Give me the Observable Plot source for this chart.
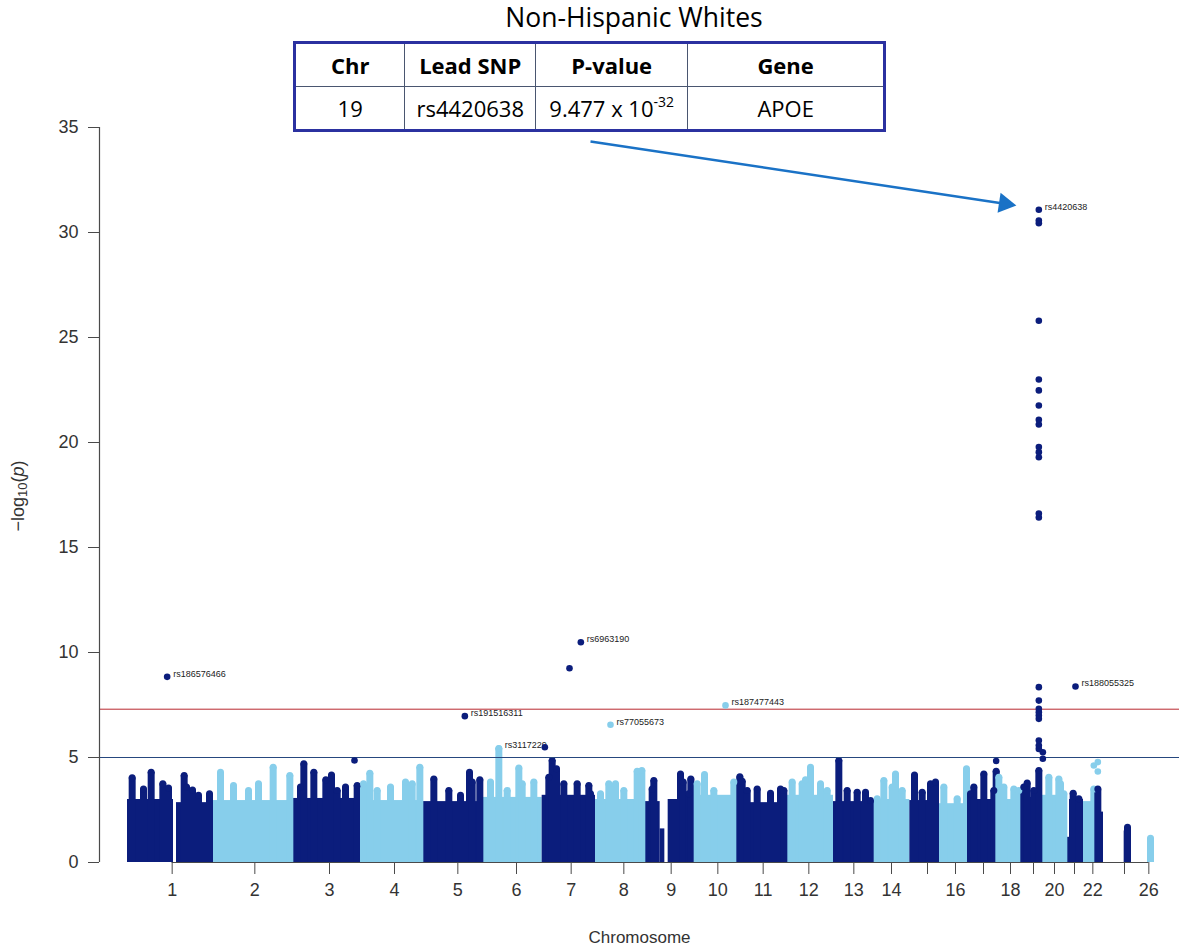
<!DOCTYPE html>
<html>
<head>
<meta charset="utf-8">
<script src="https://cdn.jsdelivr.net/npm/d3@7"></script>
<script src="https://cdn.jsdelivr.net/npm/@observablehq/plot@0.6"></script>
<style>
  body { margin: 0; background: #fff; }
  #wrap { position: relative; width: 1179px; height: 952px; overflow: hidden; background: #fff; }
  #chart { position: absolute; left: 0; top: 0; }
  #title { position: absolute; left: 434px; width: 400px; top: -1px; text-align: center;
           font-family: "Open Sans", sans-serif; font-size: 26.5px; color: #000; white-space: nowrap; }
  #tbl { position: absolute; left: 293px; top: 41px; width: 593px; height: 91px; border-collapse: collapse;
         border: 3px solid #2b31a0; font-family: "Open Sans", sans-serif; font-size: 22px; color: #000; background: #fff; }
  #tbl th, #tbl td { border: 1.5px solid #4a5670; text-align: center; padding: 0; line-height: 1; }
  #tbl th { font-weight: bold; }
  #tbl sup { font-size: 14px; position: relative; top: -2px; vertical-align: super; line-height: 0; }
  #ylab { position: absolute; left: 18px; top: 496px; transform: translate(-50%, -50%) rotate(-90deg);
          font-family: "Liberation Sans", Arial, sans-serif; font-size: 18px; color: #333; white-space: nowrap; }
  #ylab sub { font-size: 13px; vertical-align: -3px; line-height: 0; }
</style>
</head>
<body>
<div id="wrap">
  <div id="chart"></div>
  <div id="title"></div>
  <table id="tbl"></table>
  <div id="ylab">−log<sub>10</sub>(<i>p</i>)</div>
</div>
<script>
// ---------------- DATA ----------------
const chartTitle = "Non-Hispanic Whites";
const tableHeader = ["Chr", "Lead SNP", "P-value", "Gene"];
const tableRow = ["19", "rs4420638", "9.477 x 10<sup>-32</sup>", "APOE"];
const tableColWidths = [111, 131, 153, 198];

// chromosome order, shade, axis tick position (cumulative genomic position, ~Mb) and tick label
const chromosomes = ["1","2","3","4","5","6","7","8","9","10","11","12","13","14","15","16","17","18","19","20","21","22","23","26"];
const chrShade = ["dark","light","dark","light","dark","light","dark","light","dark","light","dark","light","dark","light","dark","light","dark","light","dark","light","dark","light","dark","light"];
const tickPositions = [134,382,606,801,991,1167,1331,1489,1631,1771,1907,2044,2179,2292,2400,2484,2568,2649,2718,2781,2841,2896,2991,3064];
const tickLabels = ["1","2","3","4","5","6","7","8","9","10","11","12","13","14","","16","","18","","20","","22","","26"];
const xDomain = [-84, 3156];
const yTicks = [0, 5, 10, 15, 20, 25, 30, 35];

// dense bulk of SNPs per chromosome: [chr, start, end, typical top -log10(p)]
const bodySegments = [
  ["1",0,138,3.0],["1",147,249,2.85],
  ["2",249,497,2.95],
  ["3",497,694,3.05],
  ["4",694,887,2.95],
  ["5",887,1068,2.9],
  ["6",1068,1244,3.1],
  ["7",1244,1404,3.2],
  ["8",1404,1548,3.0],
  ["9",1549,1598,2.9],["9",1598,1612,1.6],["9",1622,1694,3.0],
  ["10",1694,1829,3.2],
  ["11",1829,1977,2.85],
  ["12",1977,2118,3.2],
  ["13",2118,2234,2.9],
  ["14",2234,2347,3.0],
  ["15",2347,2427,2.95],
  ["16",2427,2519,2.8],
  ["17",2519,2610,3.0],
  ["18",2610,2679,3.0],
  ["19",2679,2739,3.1],
  ["20",2739,2817,3.2],
  ["21",2818,2826,1.2],["21",2826,2868,3.0],
  ["22",2868,2905,2.9],
  ["23",2906,2928,2.4],["23",2990,3010,1.5]
];

// stacked SNP columns rising out of the bulk: [chr, position, top -log10(p)]
const peaks = [
  ["1",14,4.03],["1",48,3.5],["1",71,4.3],["1",106,3.75],["1",123,3.55],["1",170,4.14],["1",177,3.6],["1",195,3.45],["1",213,3.2],["1",246,3.27],
  ["2",279,4.3],["2",318,3.67],["2",363,3.43],["2",393,3.75],["2",437,4.54],["2",487,4.14],
  ["3",519,3.6],["3",529,4.7],["3",559,4.3],["3",595,3.94],["3",612,4.17],["3",629,3.43],["3",654,3.59],["3",689,3.67],
  ["4",708,3.75],["4",727,4.25],["4",749,3.43],["4",789,3.6],["4",834,3.83],["4",854,3.75],["4",877,4.54],
  ["5",919,3.98],["5",964,3.43],["5",999,3.2],["5",1026,4.3],["5",1034,3.83],["5",1057,3.94],
  ["6",1089,3.83],["6",1114,5.43],["6",1139,3.43],["6",1174,4.5],["6",1184,3.75],["6",1219,3.83],
  ["7",1264,4.06],["7",1274,4.86],["7",1287,4.46],["7",1309,3.75],["7",1349,3.75],["7",1384,3.67],["7",1389,3.27],
  ["8",1419,3.27],["8",1444,3.75],["8",1464,3.75],["8",1489,3.43],["8",1529,4.35],["8",1543,4.38],
  ["9",1574,3.5],["9",1579,3.9],["9",1659,4.22],["9",1667,3.83],["9",1684,3.27],["9",1690,3.98],
  ["10",1709,3.75],["10",1731,4.19],["10",1759,3.43],["10",1819,3.83],
  ["11",1837,4.08],["11",1844,3.87],["11",1859,3.43],["11",1889,3.5],["11",1929,3.3],["11",1959,3.5],["11",1969,3.43],
  ["12",1994,3.83],["12",2024,3.75],["12",2034,3.94],["12",2049,4.54],["12",2079,3.75],["12",2099,3.43],
  ["13",2134,4.86],["13",2159,3.43],["13",2189,3.35],["13",2214,3.35],["13",2229,2.95],
  ["14",2249,3.03],["14",2269,3.9],["14",2294,3.59],["14",2304,4.22],["14",2324,3.43],
  ["15",2361,4.17],["15",2384,3.35],["15",2409,3.75],["15",2424,3.83],
  ["16",2449,3.59],["16",2489,3.03],["16",2517,4.46],
  ["17",2529,3.27],["17",2539,3.59],["17",2569,4.22],["17",2599,3.43],["17",2606,4.35],
  ["18",2614,4.06],["18",2629,3.59],["18",2659,3.5],["18",2674,3.43],
  ["19",2689,3.59],["19",2699,3.78],["19",2719,3.43],["19",2734,4.38],
  ["20",2764,4.06],["20",2794,3.98],["20",2799,3.75],["20",2809,3.27],
  ["21",2837,3.3],["21",2854,3.03],
  ["22",2899,3.5],
  ["23",2911,3.5],["23",3000,1.68],
  ["26",3069,1.16]
];

// individual SNPs standing clear of the bulk: [chr, position, -log10(p), label]
const hits = [
  ["1",119,8.84,"rs186576466"],
  ["3",681,4.86,""],
  ["5",1012,6.97,"rs191516311"],
  ["6",1114,5.43,"rs3117229"],
  ["7",1252,5.49,""],
  ["7",1326,9.25,""],
  ["7",1360,10.49,"rs6963190"],
  ["8",1449,6.56,"rs77055673"],
  ["10",1794,7.48,"rs187477443"],
  ["17",2606,4.83,""],
  ["19",2746,4.94,""],["19",2746,5.25,""],["19",2734,5.41,""],["19",2734,5.57,""],["19",2734,5.81,""],
  ["19",2734,6.84,""],["19",2734,7.0,""],["19",2734,7.16,""],["19",2734,7.32,""],["19",2734,7.71,""],["19",2734,8.35,""],
  ["19",2734,16.43,""],["19",2734,16.62,""],["19",2734,19.3,""],["19",2734,19.54,""],["19",2734,19.78,""],
  ["19",2734,20.86,""],["19",2734,21.08,""],["19",2734,21.76,""],["19",2734,22.48,""],["19",2734,23.0,""],
  ["19",2734,25.8,""],["19",2734,30.44,""],["19",2734,30.57,""],["19",2734,31.08,"rs4420638"],
  ["21",2844,8.38,"rs188055325"],
  ["22",2899,4.62,""],["22",2911,4.78,""],["22",2911,4.33,""]
];

const suggestiveLine = 5;        // -log10(1e-5)
const genomeWideLine = 7.3;      // -log10(5e-8)

// callout arrow from the table to the lead SNP: [x1, y1, x2, y2] and arrowhead [x, y, angle]
const callout = [1389, 34.33, 2632, 31.37];
const calloutHead = [2632, 31.37, 98.6];

// ---------------- STYLE ----------------
const DARK = "#0b1d7c";
const LIGHT = "#87ceeb";
const AXIS = "#4a4a4a";
const TEXT = "#333333";

// ---------------- BUILD ----------------
document.getElementById("title").textContent = chartTitle;
const tbl = document.getElementById("tbl");
const colgroup = document.createElement("colgroup");
tableColWidths.forEach(w => { const c = document.createElement("col"); c.style.width = w + "px"; colgroup.appendChild(c); });
tbl.appendChild(colgroup);
const trh = document.createElement("tr");
tableHeader.forEach(h => { const th = document.createElement("th"); th.textContent = h; trh.appendChild(th); });
tbl.appendChild(trh);
const trb = document.createElement("tr");
tableRow.forEach(v => { const td = document.createElement("td"); td.innerHTML = v; trb.appendChild(td); });
tbl.appendChild(trb);

const shadeOf = new Map(chromosomes.map((c, i) => [c, chrShade[i]]));
const colorOf = c => shadeOf.get(c) === "dark" ? DARK : LIGHT;
const labelAt = new Map(tickPositions.map((p, i) => [p, tickLabels[i]]));

const bodyData = bodySegments.map(([chr, x1, x2, top]) => ({chr, x1, x2, top, color: colorOf(chr)}));
const peakData = peaks.map(([chr, pos, value]) => ({chr, pos, value, color: colorOf(chr)}));
const hitData = hits.map(([chr, pos, value, label]) => ({chr, pos, value, label, color: colorOf(chr)}));
const labelData = hitData.filter(d => d.label);

const chart = Plot.plot({
  width: 1179,
  height: 952,
  marginLeft: 99,
  marginRight: 0,
  marginTop: 127,
  marginBottom: 90,
  x: {domain: xDomain, axis: null},
  y: {domain: [0, 35], axis: null},
  color: {type: "identity"},
  style: {fontFamily: "'Liberation Sans', Arial, sans-serif", fontSize: "18px", background: "#fff", color: TEXT},
  marks: [
    Plot.ruleY([0], {x1: tickPositions[0], x2: tickPositions[tickPositions.length - 1], stroke: AXIS, strokeWidth: 1.2}),
    Plot.rectY(bodyData, {x1: "x1", x2: "x2", y1: 0, y2: "top", fill: "color"}),
    Plot.ruleX(peakData, {x: "pos", y1: 0, y2: "value", stroke: "color", strokeWidth: 7}),
    Plot.dot(peakData, {x: "pos", y: "value", r: 3.5, fill: "color"}),
    Plot.ruleY([suggestiveLine], {stroke: "#26477e", strokeWidth: 1}),
    Plot.ruleY([genomeWideLine], {stroke: "#b8282f", strokeWidth: 1}),
    Plot.text(labelData, {x: "pos", y: "value", text: "label", textAnchor: "start", dx: 6, dy: -3, fontSize: 9, fill: "#222"}),
    Plot.dot(hitData, {x: "pos", y: "value", r: 3.3, fill: "color"}),
    // y axis
    Plot.ruleX([xDomain[0]], {y1: 0, y2: 35, stroke: AXIS, strokeWidth: 1.2}),
    Plot.axisY({ticks: yTicks, tickSize: 11, tickPadding: 10, stroke: AXIS, fill: TEXT, fontSize: 18, label: null}),
    // x axis
    Plot.axisX({ticks: tickPositions, tickFormat: d => labelAt.get(d), tickSize: 12, tickPadding: 9, stroke: AXIS, fill: TEXT, fontSize: 18, label: null}),
    Plot.text(["Chromosome"], {frameAnchor: "bottom", dy: 80, text: d => d, fontSize: 17, fill: TEXT}),
    // callout arrow
    Plot.link([callout], {x1: d => d[0], y1: d => d[1], x2: d => d[2], y2: d => d[3], stroke: "#1a72c6", strokeWidth: 2.5}),
    Plot.dot([calloutHead], {x: d => d[0], y: d => d[1], rotate: d => d[2], symbol: "triangle", r: 7.5, fill: "#1a72c6", stroke: "none"})
  ]
});
document.getElementById("chart").appendChild(chart);
</script>
</body>
</html>
